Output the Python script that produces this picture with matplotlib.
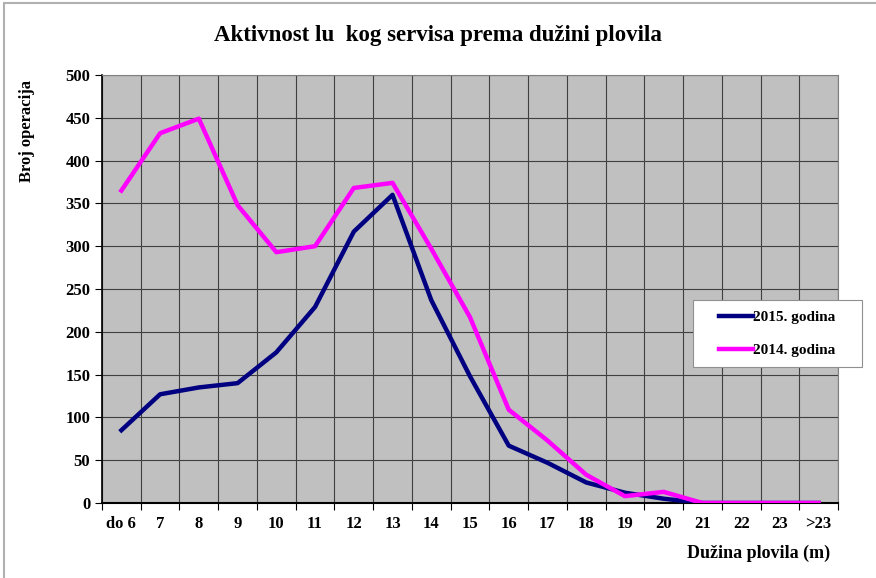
import matplotlib
matplotlib.use("Agg")
import matplotlib.pyplot as plt
import numpy as np
from matplotlib.patches import Rectangle

# categories and values
categories = ["do 6", "7", "8", "9", "10", "11", "12", "13", "14", "15",
              "16", "17", "18", "19", "20", "21", "22", "23", ">23"]
god_2015 = [85, 127, 135, 140, 176, 229, 317, 360, 237, 148,
            67, 47, 24, 12, 5, 0, 0, 0, 0]
god_2014 = [365, 432, 449, 348, 293, 300, 368, 374, 297, 217,
            109, 73, 33, 8, 13, 0, 0, 0, 0]

plt.rcParams['font.family'] = ['Liberation Serif', 'DejaVu Serif']
plt.rcParams['font.weight'] = 'bold'

W, H = 876, 578
fig = plt.figure(figsize=(W / 100, H / 100), dpi=100)
ax = fig.add_axes([102 / W, 1 - 503 / H, 736 / W, 428 / H])
ax.set_facecolor('#C0C0C0')

x = np.arange(len(categories))
ax.plot(x, god_2015, color='#000080', lw=3.2, label='2015. godina', zorder=3)
ax.plot(x, god_2014, color='#FF00FF', lw=3.2, label='2014. godina', zorder=3)

ax.set_xlim(-0.5, len(categories) - 0.5)
ax.set_ylim(0, 500)
ax.set_yticks(np.arange(0, 501, 50))
ax.set_xticks(x)
ax.set_xticklabels(categories)
ax.set_xticks(np.arange(-0.5, len(categories), 1), minor=True)
ax.tick_params(axis='x', which='major', length=0, pad=9, labelsize=12)
ax.tick_params(axis='x', which='minor', length=5, width=0.8)
ax.tick_params(axis='y', length=5, width=0.8, labelsize=12)
for lab in ax.get_xticklabels() + ax.get_yticklabels():
    lab.set_fontweight('bold')

ax.grid(True, axis='y', which='major', color='#404040', lw=0.8)
ax.grid(True, axis='x', which='minor', color='#404040', lw=0.8)
ax.set_axisbelow(True)

for side in ['top', 'right']:
    ax.spines[side].set_color('#808080')
    ax.spines[side].set_linewidth(0.8)
ax.spines['left'].set_linewidth(1.2)
ax.spines['bottom'].set_linewidth(1.5)

fig.text(0.5, 1 - 35 / H, 'Aktivnost lu  kog servisa prema dužini plovila',
         ha='center', va='center', fontsize=16.5, fontweight='bold')
fig.text(27 / W, 1 - 131 / H, 'Broj operacija', rotation=90, ha='center', va='center',
         fontsize=12, fontweight='bold')
fig.text(830 / W, 1 - 553 / H, 'Dužina plovila (m)', ha='right', va='center',
         fontsize=13, fontweight='bold')

# legend box
fig.patches.append(Rectangle((693 / W, 1 - 367 / H), 169 / W, 67 / H,
                             transform=fig.transFigure, facecolor='white',
                             edgecolor='#909090', lw=0.8, zorder=4))
leg = fig.legend(loc='center left', bbox_to_anchor=(719 / W, 1 - 334 / H),
                 frameon=False, borderpad=0, borderaxespad=0,
                 handlelength=2.2, handletextpad=0.05, labelspacing=1.25,
                 prop={'weight': 'bold', 'size': 11})
leg.set_zorder(5)

fig.patches.append(Rectangle((0.005, -0.01), 0.999, 1.004, transform=fig.transFigure,
                             fill=False, edgecolor='#B0B0B0', lw=1.5))

plt.savefig('out.png', dpi=100)
